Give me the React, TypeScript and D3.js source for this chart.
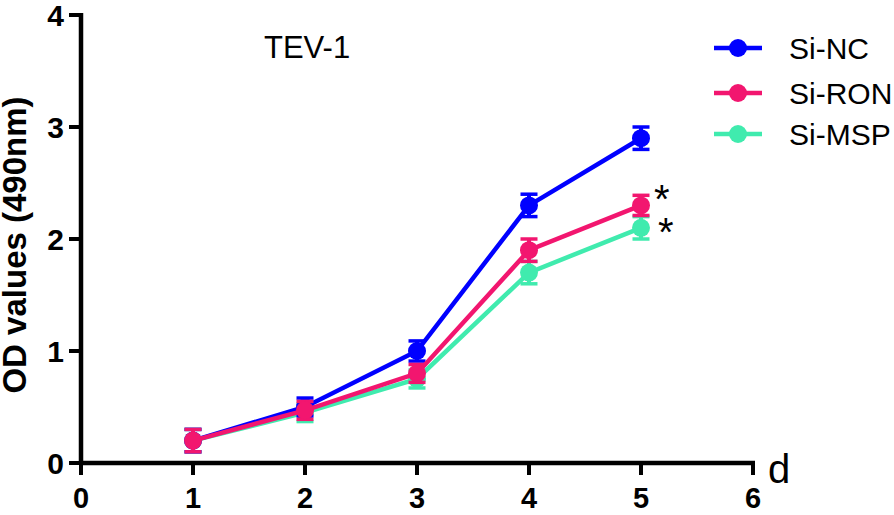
import React from "react";
import * as d3 from "d3";

const days = [1, 2, 3, 4, 5];
const siNC = [0.2, 0.5, 1.0, 2.3, 2.9];
const siNCErr = [0.1, 0.08, 0.09, 0.1, 0.1];
const siRON = [0.2, 0.47, 0.8, 1.9, 2.3];
const siRONErr = [0.1, 0.08, 0.08, 0.1, 0.09];
const siMSP = [0.2, 0.45, 0.75, 1.7, 2.1];
const siMSPErr = [0.1, 0.08, 0.08, 0.1, 0.1];
const xTicks = [0, 1, 2, 3, 4, 5, 6];
const yTicks = [0, 1, 2, 3, 4];
const seriesNames = ["Si-NC", "Si-RON", "Si-MSP"];
const colors = ["#0000FF", "#F2166F", "#40EBAE"];
const starDays = [5, 5];
const starValues = [2.3, 2.1];

const W = 894;
const H = 515;

export default function App() {
  const x = d3.scaleLinear().domain([0, 6]).range([81, 753]);
  const y = d3.scaleLinear().domain([0, 4]).range([463, 15]);
  const series = [
    { name: seriesNames[0], vals: siNC, err: siNCErr, color: colors[0] },
    { name: seriesNames[1], vals: siRON, err: siRONErr, color: colors[1] },
    { name: seriesNames[2], vals: siMSP, err: siMSPErr, color: colors[2] },
  ];
  const drawOrder = [series[2], series[0], series[1]];
  const line = d3
    .line<number>()
    .x((_, i) => x(days[i]))
    .y((v) => y(v));
  const font = "Liberation Sans, Arial, sans-serif";
  const capW = 8.5;

  return (
    <svg
      width={W}
      height={H}
      style={{ position: "absolute", left: 0, top: 0, background: "#fff" }}
      fontFamily={font}
    >
      {/* axes */}
      <line x1={x(0)} x2={x(0)} y1={y(4) - 2} y2={y(0) + 2} stroke="#000" strokeWidth={4.5} />
      <line x1={x(0) - 2} x2={x(6) + 2} y1={y(0)} y2={y(0)} stroke="#000" strokeWidth={4.5} />
      {yTicks.map((t) => (
        <g key={"y" + t}>
          <line x1={x(0) - 12} x2={x(0)} y1={y(t)} y2={y(t)} stroke="#000" strokeWidth={4} />
          <text
            x={x(0) - 17}
            y={y(t) + 10.5}
            textAnchor="end"
            fontSize={30}
            fontWeight="bold"
          >
            {t}
          </text>
        </g>
      ))}
      {xTicks.map((t) => (
        <g key={"x" + t}>
          <line x1={x(t)} x2={x(t)} y1={y(0)} y2={y(0) + 12} stroke="#000" strokeWidth={4} />
          <text x={x(t)} y={508} textAnchor="middle" fontSize={29} fontWeight="bold">
            {t}
          </text>
        </g>
      ))}
      <text x={768} y={483} fontSize={40}>
        d
      </text>
      <text
        transform={`translate(26,245) rotate(-90)`}
        textAnchor="middle"
        fontSize={33}
        fontWeight="bold"
      >
        OD values (490nm)
      </text>
      <text x={264} y={58} fontSize={31}>
        TEV-1
      </text>

      {/* series */}
      {drawOrder.map((s) => (
        <g key={s.name}>
          <path d={line(s.vals) || ""} fill="none" stroke={s.color} strokeWidth={4.5} />
          {s.vals.map((v, i) => {
            const cx = x(days[i]);
            const top = y(v + s.err[i]);
            const bot = y(v - s.err[i]);
            return (
              <g key={i}>
                <line x1={cx} x2={cx} y1={top} y2={bot} stroke={s.color} strokeWidth={4} />
                <line x1={cx - capW} x2={cx + capW} y1={top} y2={top} stroke={s.color} strokeWidth={3.5} />
                <line x1={cx - capW} x2={cx + capW} y1={bot} y2={bot} stroke={s.color} strokeWidth={3.5} />
                <circle cx={cx} cy={y(v)} r={9} fill={s.color} />
              </g>
            );
          })}
        </g>
      ))}

      {/* significance stars */}
      {starDays.map((dd, i) => (
        <text
          key={"s" + i}
          x={x(dd) + 13 + i * 4}
          y={y(starValues[i]) + (i === 0 ? 8 : 18)}
          fontSize={40}
        >
          *
        </text>
      ))}

      {/* legend */}
      {series.map((s, i) => {
        const ly = [48, 93, 134][i];
        return (
          <g key={"l" + s.name}>
            <line x1={714} x2={762} y1={ly} y2={ly} stroke={s.color} strokeWidth={4.5} />
            <circle cx={738} cy={ly} r={9} fill={s.color} />
            <text x={789} y={ly + 10.5} fontSize={30}>
              {s.name}
            </text>
          </g>
        );
      })}
    </svg>
  );
}
